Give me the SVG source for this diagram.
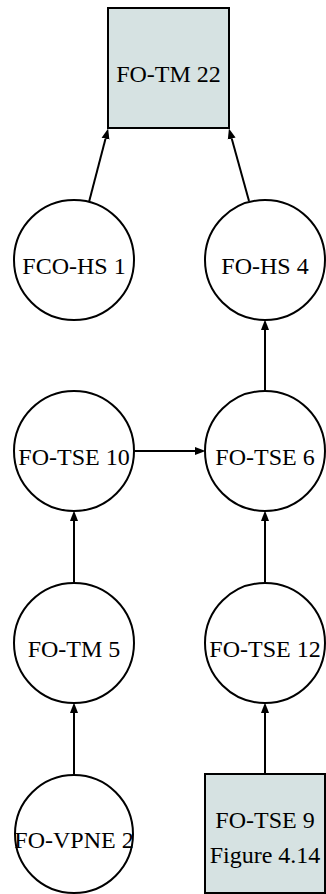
<svg xmlns="http://www.w3.org/2000/svg" width="326" height="894" viewBox="0 0 326 894">
  <style>
    .node circle, .node rect { stroke: #000; stroke-width: 2; }
    .node circle { fill: #fff; }
    .node rect { fill: #d6e2e2; }
    .node text { font-family: "Liberation Serif", "Times New Roman", serif; font-size: 24px; fill: #000; text-anchor: middle; }
    .edge { stroke: #000; stroke-width: 2; fill: none; marker-end: url(#arrow); }
  </style>
  <defs>
    <marker id="arrow" markerUnits="userSpaceOnUse" markerWidth="11" markerHeight="9" refX="0" refY="4.5" orient="auto">
      <path d="M0,0.5 L10.5,4.5 L0,8.5 z" fill="#000"/>
    </marker>
  </defs>

  <!-- nodes -->
  <g id="fo-tm-22" class="node">
    <rect x="108" y="8" width="121" height="120"/>
    <text x="168.5" y="82">FO-TM 22</text>
  </g>
  <g id="fco-hs-1" class="node">
    <circle cx="74" cy="260" r="60"/>
    <text x="74" y="273.5">FCO-HS 1</text>
  </g>
  <g id="fo-hs-4" class="node">
    <circle cx="265" cy="260" r="60"/>
    <text x="265" y="273.5">FO-HS 4</text>
  </g>
  <g id="fo-tse-10" class="node">
    <circle cx="74" cy="451" r="60"/>
    <text x="74" y="464.5">FO-TSE 10</text>
  </g>
  <g id="fo-tse-6" class="node">
    <circle cx="265" cy="451" r="60"/>
    <text x="265" y="464.5">FO-TSE 6</text>
  </g>
  <g id="fo-tm-5" class="node">
    <circle cx="74" cy="643" r="60"/>
    <text x="74" y="656.5">FO-TM 5</text>
  </g>
  <g id="fo-tse-12" class="node">
    <circle cx="265" cy="643" r="60"/>
    <text x="265" y="656.5">FO-TSE 12</text>
  </g>
  <g id="fo-vpne-2" class="node">
    <circle cx="74" cy="834" r="59"/>
    <text x="74" y="847.5">FO-VPNE 2</text>
  </g>
  <g id="fo-tse-9" class="node">
    <rect x="205" y="774" width="120" height="119"/>
    <text x="265" y="828">FO-TSE 9</text>
    <text x="265" y="863">Figure 4.14</text>
  </g>

  <!-- connectors -->
  <g id="edges">
    <path class="edge" d="M89,202 L105.5,138.7"/>
    <path class="edge" d="M249,201 L231.7,138.6"/>
    <path class="edge" d="M265,391 L265,330"/>
    <path class="edge" d="M134,451 L195,451"/>
    <path class="edge" d="M74,583 L74,521"/>
    <path class="edge" d="M265,583 L265,521"/>
    <path class="edge" d="M74,775 L74,713"/>
    <path class="edge" d="M265,774 L265,713"/>
  </g>
</svg>
